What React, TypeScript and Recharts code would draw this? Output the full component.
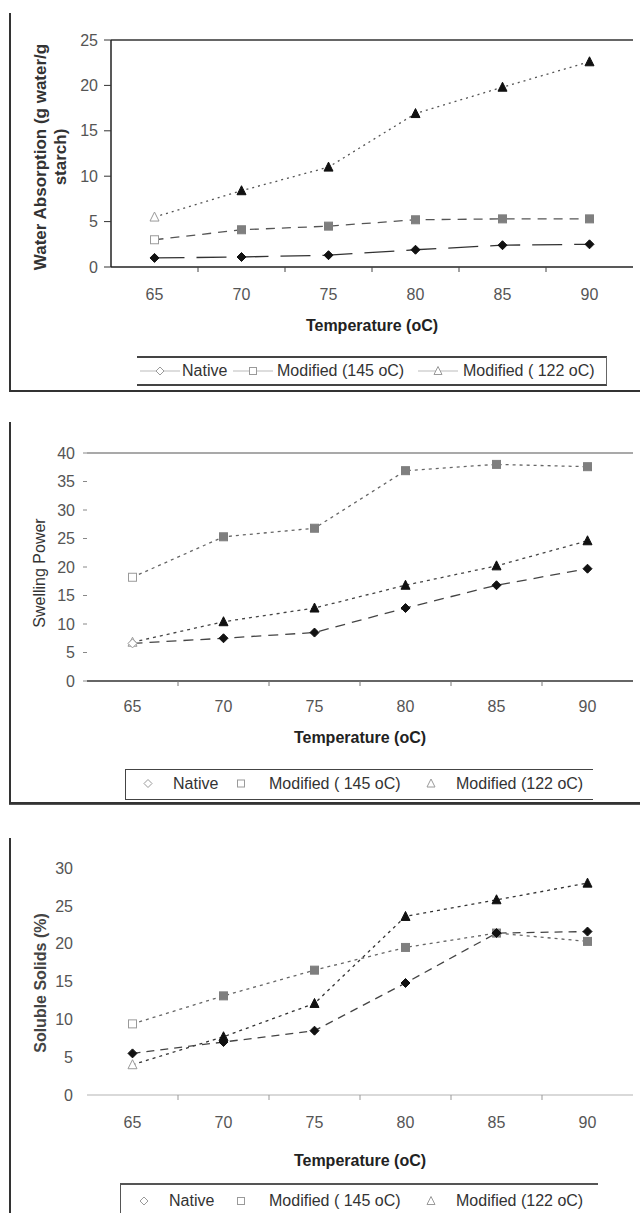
import React from 'react';
import { LineChart, Line, XAxis, YAxis, ReferenceLine, Label } from 'recharts';

const temps = ['65', '70', '75', '80', '85', '90'];

const waterNative = [1.0, 1.1, 1.3, 1.9, 2.4, 2.5];
const water145 = [3.0, 4.1, 4.5, 5.2, 5.3, 5.3];
const water122 = [5.5, 8.4, 11.0, 16.9, 19.8, 22.6];

const swellNative = [6.6, 7.5, 8.5, 12.8, 16.8, 19.7];
const swell145 = [18.2, 25.3, 26.8, 36.9, 38.0, 37.6];
const swell122 = [6.8, 10.4, 12.8, 16.8, 20.2, 24.6];

const solidsNative = [5.5, 7.0, 8.5, 14.8, 21.4, 21.6];
const solids145 = [9.4, 13.1, 16.5, 19.5, 21.4, 20.3];
const solids122 = [4.0, 7.7, 12.1, 23.6, 25.8, 28.0];

const waterTicks = [0, 5, 10, 15, 20, 25];
const swellTicks = [0, 5, 10, 15, 20, 25, 30, 35, 40];
const solidsTicks = [0, 5, 10, 15, 20, 25, 30];

const FONT = '"Liberation Sans", Arial, sans-serif';

const buildRows = (a: number[], b: number[], c: number[]) =>
  temps.map((t, i) => ({ temp: t, native: a[i], m145: b[i], m122: c[i] }));

type Shape = 'diamond' | 'square' | 'triangle';

const Marker = ({ cx, cy, shape, fill, hollow, r = 4.5 }: any) => {
  const f = hollow ? '#fff' : fill;
  const s = hollow ? '#9a9a9a' : fill;
  if (shape === 'diamond') {
    return (
      <polygon
        points={`${cx},${cy - r} ${cx + r},${cy} ${cx},${cy + r} ${cx - r},${cy}`}
        fill={f}
        stroke={s}
        strokeWidth={1}
      />
    );
  }
  if (shape === 'square') {
    return <rect x={cx - r + 0.5} y={cy - r + 0.5} width={2 * r - 1} height={2 * r - 1} fill={f} stroke={s} strokeWidth={1} />;
  }
  return (
    <polygon
      points={`${cx},${cy - r - 0.5} ${cx + r},${cy + r - 0.5} ${cx - r},${cy + r - 0.5}`}
      fill={f}
      stroke={s}
      strokeWidth={1}
    />
  );
};

// first point of most series is printed hollow in the scan
const dotFor = (shape: Shape, fill: string, firstHollow = true) => (p: any) =>
  p.cx == null ? <g key={`e-${p.index}`} /> : (
    <Marker
      key={`d-${shape}-${p.index}`}
      cx={p.cx}
      cy={p.cy}
      shape={shape}
      fill={fill}
      hollow={firstHollow && p.index === 0}
    />
  );

const makeXTick = (band: number, dy: number, tickColor: string) => (props: any) => {
  const { x, y, payload, index } = props;
  return (
    <g>
      {index > 0 && (
        <line x1={x - band / 2} x2={x - band / 2} y1={y} y2={y + 5} stroke={tickColor} strokeWidth={1} />
      )}
      <text x={x} y={y + dy} textAnchor="middle" fontSize={16} fontFamily={FONT} fill="#555">
        {payload.value}
      </text>
    </g>
  );
};

const seriesLabels1 = ['Native', 'Modified (145 oC)', 'Modified ( 122 oC)'];
const seriesLabels2 = ['Native', 'Modified ( 145 oC)', 'Modified (122 oC)'];
const shapes: Shape[] = ['diamond', 'square', 'triangle'];

const Frame = ({ top, height, bottom, double }: any) => (
  <>
    <div style={{ position: 'absolute', left: 9, top, width: 2, height, background: '#333' }} />
    {bottom != null && (
      <div
        style={{
          position: 'absolute',
          left: 9,
          top: bottom,
          width: 631,
          height: double ? 3 : 2,
          borderTop: '2px solid #333',
          borderBottom: double ? '1px solid #555' : undefined,
          boxSizing: 'border-box',
        }}
      />
    )}
  </>
);

const LegendBox = ({ left, top, width, height, border, labels, slots, showLines, faint }: any) => (
  <div
    style={{
      position: 'absolute',
      left,
      top,
      width,
      height,
      boxSizing: 'border-box',
      fontFamily: FONT,
      fontSize: 16,
      color: '#333',
      ...border,
    }}
  >
    {labels.map((lab: string, i: number) => (
      <React.Fragment key={lab}>
        <svg
          style={{ position: 'absolute', left: slots[i][0], top: 0 }}
          width={40}
          height={height - 4}
        >
          {showLines && (
            <line x1={0} x2={40} y1={(height - 4) / 2} y2={(height - 4) / 2} stroke="#bbb" strokeWidth={1} />
          )}
          <Marker
            cx={20}
            cy={(height - 4) / 2}
            shape={shapes[i]}
            fill={faint ? '#ccc' : '#bbb'}
            hollow
            r={4}
          />
        </svg>
        <span
          style={{
            position: 'absolute',
            left: slots[i][1],
            top: 0,
            lineHeight: `${height - 4}px`,
            whiteSpace: 'nowrap',
          }}
        >
          {lab}
        </span>
      </React.Fragment>
    ))}
  </div>
);

const App = () => {
  const rows1 = buildRows(waterNative, water145, water122);
  const rows2 = buildRows(swellNative, swell145, swell122);
  const rows3 = buildRows(solidsNative, solids145, solids122);

  return (
    <div style={{ position: 'absolute', left: 0, top: 0, width: 640, height: 1213, background: '#fff', overflow: 'hidden' }}>
      {/* Chart 1: water absorption */}
      <Frame top={13} height={379} bottom={390} />
      <div style={{ position: 'absolute', left: 0, top: 0 }}>
        <LineChart width={640} height={400} data={rows1} margin={{ top: 40, right: 7, bottom: 103, left: 0 }}>
          <XAxis
            dataKey="temp"
            height={30}
            padding={{ left: 43.5, right: 43.5 }}
            axisLine={{ stroke: '#222', strokeWidth: 1.5 }}
            tickLine={false}
            tickSize={0}
            tickMargin={0}
            interval={0}
            tick={makeXTick(87, 33, '#444')}
          >
            <Label
              content={() => (
                <text x={372} y={331} textAnchor="middle" fontSize={16} fontWeight="bold" fontFamily={FONT} fill="#222">
                  Temperature (oC)
                </text>
              )}
            />
          </XAxis>
          <YAxis
            width={111}
            domain={[0, 25]}
            ticks={waterTicks}
            axisLine={{ stroke: '#222', strokeWidth: 1.5 }}
            tickLine={{ stroke: '#333' }}
            tickSize={7}
            tickMargin={6}
            tick={{ fontSize: 16, fontFamily: FONT, fill: '#555' }}
          >
            <Label
              content={() => (
                <g fontSize={17} fontWeight="bold" fontFamily={FONT} fill="#333">
                  <text x={46} y={157} textAnchor="middle" transform="rotate(-90 46 157)">
                    Water Absorption (g water/g
                  </text>
                  <text x={66} y={157} textAnchor="middle" transform="rotate(-90 66 157)">
                    starch)
                  </text>
                </g>
              )}
            />
          </YAxis>
          <ReferenceLine y={25} stroke="#333" strokeWidth={1.5} />
          <Line dataKey="m122" stroke="#555" strokeWidth={1.3} strokeDasharray="2 4" dot={dotFor('triangle', '#111')} activeDot={false} isAnimationActive={false} />
          <Line dataKey="m145" stroke="#555" strokeWidth={1.3} strokeDasharray="9 7" dot={dotFor('square', '#7f7f7f')} activeDot={false} isAnimationActive={false} />
          <Line dataKey="native" stroke="#333" strokeWidth={1.3} strokeDasharray="30 12" dot={dotFor('diamond', '#111', false)} activeDot={false} isAnimationActive={false} />
        </LineChart>
      </div>
      <LegendBox
        left={137}
        top={356}
        width={470}
        height={30}
        border={{ borderTop: '2px solid #444', borderBottom: '2px solid #444', borderRight: '1px solid #666' }}
        labels={seriesLabels1}
        slots={[[3, 45], [96, 140], [281, 326]]}
        showLines
      />

      {/* Chart 2: swelling power */}
      <Frame top={422} height={383} bottom={802} double />
      <div style={{ position: 'absolute', left: 0, top: 400 }}>
        <LineChart width={640} height={420} data={rows2} margin={{ top: 53, right: 7, bottom: 109, left: 0 }}>
          <XAxis
            dataKey="temp"
            height={30}
            padding={{ left: 45.5, right: 45.5 }}
            axisLine={{ stroke: '#333', strokeWidth: 1.5 }}
            tickLine={false}
            tickSize={0}
            tickMargin={0}
            interval={0}
            tick={makeXTick(91, 31, '#777')}
          >
            <Label
              content={() => (
                <text x={360} y={343} textAnchor="middle" fontSize={16} fontWeight="bold" fontFamily={FONT} fill="#222">
                  Temperature (oC)
                </text>
              )}
            />
          </XAxis>
          <YAxis
            width={87}
            domain={[0, 40]}
            ticks={swellTicks}
            axisLine={false}
            tickLine={{ stroke: '#888' }}
            tickSize={4}
            tickMargin={8}
            tick={{ fontSize: 16, fontFamily: FONT, fill: '#555' }}
          >
            <Label
              content={() => (
                <text x={45} y={173} textAnchor="middle" transform="rotate(-90 45 173)" fontSize={16} fontFamily={FONT} fill="#333">
                  Swelling Power
                </text>
              )}
            />
          </YAxis>
          <ReferenceLine y={40} stroke="#555" strokeWidth={1.2} />
          <Line dataKey="m145" stroke="#666" strokeWidth={1.3} strokeDasharray="3 4" dot={dotFor('square', '#7f7f7f')} activeDot={false} isAnimationActive={false} />
          <Line dataKey="m122" stroke="#444" strokeWidth={1.3} strokeDasharray="3 4" dot={dotFor('triangle', '#111')} activeDot={false} isAnimationActive={false} />
          <Line dataKey="native" stroke="#444" strokeWidth={1.3} strokeDasharray="10 7" dot={dotFor('diamond', '#111')} activeDot={false} isAnimationActive={false} />
        </LineChart>
      </div>
      <LegendBox
        left={125}
        top={769}
        width={468}
        height={31}
        border={{ borderTop: '1.5px solid #444', borderBottom: '1.5px solid #444', borderLeft: '1.5px solid #444' }}
        labels={seriesLabels2}
        slots={[[2, 47], [95, 143], [285, 330]]}
        faint
      />

      {/* Chart 3: soluble solids */}
      <Frame top={838} height={380} />
      <div style={{ position: 'absolute', left: 0, top: 820 }}>
        <LineChart width={640} height={393} data={rows3} margin={{ top: 48, right: 7, bottom: 88, left: 0 }}>
          <XAxis
            dataKey="temp"
            height={30}
            padding={{ left: 45.5, right: 45.5 }}
            axisLine={{ stroke: '#ccc', strokeWidth: 1.5 }}
            tickLine={false}
            tickSize={0}
            tickMargin={0}
            interval={0}
            tick={makeXTick(91, 33, '#999')}
          >
            <Label
              content={() => (
                <text x={360} y={346} textAnchor="middle" fontSize={16} fontWeight="bold" fontFamily={FONT} fill="#222">
                  Temperature (oC)
                </text>
              )}
            />
          </XAxis>
          <YAxis
            width={87}
            domain={[0, 30]}
            ticks={solidsTicks}
            axisLine={false}
            tickLine={false}
            tickSize={0}
            tickMargin={14}
            tick={{ fontSize: 16, fontFamily: FONT, fill: '#555' }}
          >
            <Label
              content={() => (
                <text x={46} y={163} textAnchor="middle" transform="rotate(-90 46 163)" fontSize={16} fontWeight="bold" fontFamily={FONT} fill="#444">
                  Soluble Solids (%)
                </text>
              )}
            />
          </YAxis>
          <Line dataKey="m145" stroke="#666" strokeWidth={1.3} strokeDasharray="3 4" dot={dotFor('square', '#7f7f7f')} activeDot={false} isAnimationActive={false} />
          <Line dataKey="m122" stroke="#333" strokeWidth={1.3} strokeDasharray="3 4" dot={dotFor('triangle', '#111')} activeDot={false} isAnimationActive={false} />
          <Line dataKey="native" stroke="#444" strokeWidth={1.3} strokeDasharray="8 6" dot={dotFor('diamond', '#111', false)} activeDot={false} isAnimationActive={false} />
        </LineChart>
      </div>
      <LegendBox
        left={120}
        top={1183}
        width={478}
        height={36}
        border={{ borderTop: '2px solid #555', borderLeft: '1.5px solid #555' }}
        labels={seriesLabels2}
        slots={[[3, 48], [100, 148], [290, 335]]}
        faint
      />
    </div>
  );
};

export default App;
